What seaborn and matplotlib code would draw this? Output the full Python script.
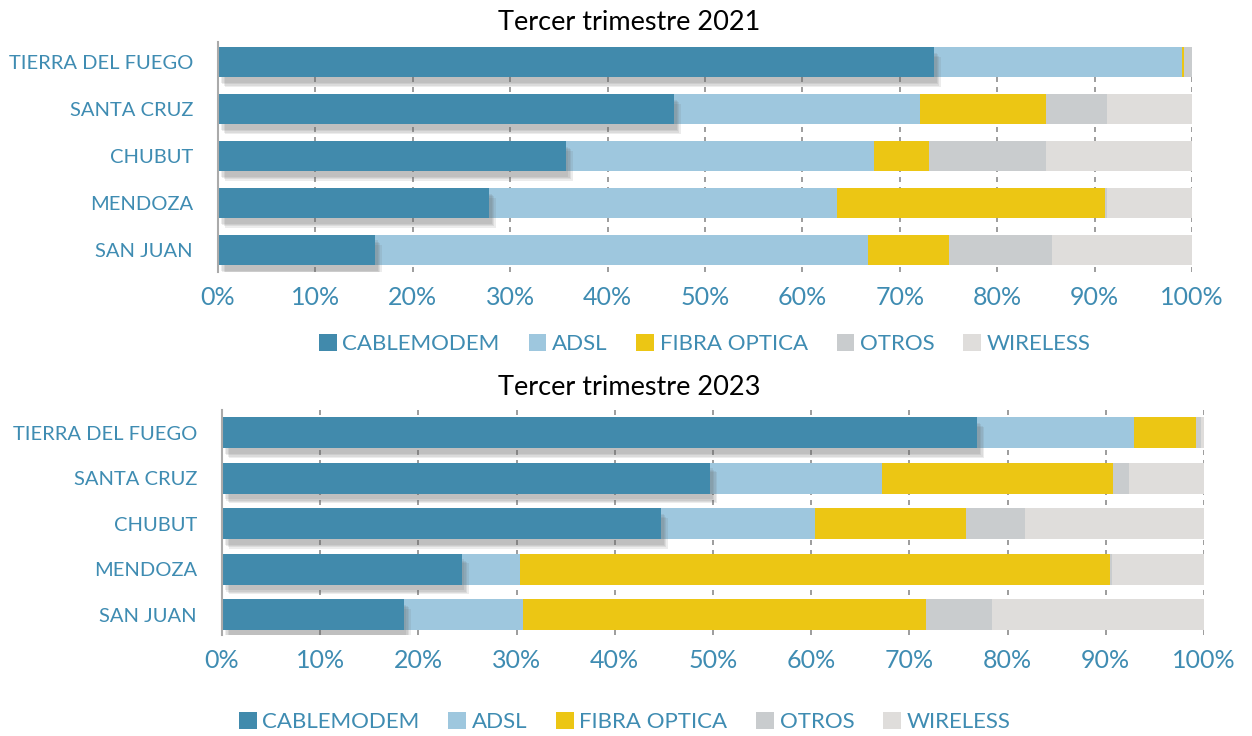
"""Stacked share of internet access technology by province, 2021 vs 2023."""

import matplotlib
matplotlib.use("Agg")
import matplotlib.pyplot as plt
import matplotlib.patheffects as pe
from matplotlib.patches import Patch
import seaborn as sns

provinces = ["TIERRA DEL FUEGO", "SANTA CRUZ", "CHUBUT", "MENDOZA", "SAN JUAN"]
technologies = ["CABLEMODEM", "ADSL", "FIBRA OPTICA", "OTROS", "WIRELESS"]
x_ticks = [0, 10, 20, 30, 40, 50, 60, 70, 80, 90, 100]

# 2021 shares (%)
cable_2021 = [73.5, 46.8, 35.7, 27.8, 16.1]
adsl_2021 = [25.5, 25.3, 31.6, 35.8, 50.6]
fibra_2021 = [0.2, 12.9, 5.7, 27.5, 8.3]
otros_2021 = [0.8, 6.3, 12.0, 0.2, 10.6]
wireless_2021 = [0.0, 8.7, 15.0, 8.7, 14.4]

# 2023 shares (%)
cable_2023 = [76.9, 49.7, 44.7, 24.4, 18.5]
adsl_2023 = [16.0, 17.5, 15.7, 5.9, 12.2]
fibra_2023 = [6.3, 23.5, 15.4, 60.1, 41.0]
otros_2023 = [0.5, 1.7, 6.0, 0.2, 6.7]
wireless_2023 = [0.3, 7.6, 18.2, 9.4, 21.6]

colors = ["#418aac", "#9ec7de", "#ecc614", "#c9ccce", "#dfdddb"]
label_color = "#3f8cb2"
FONT = "Lato"


def stacked(ax, series, bar_width):
    # cumulative sums, drawn from the longest down so each segment shows
    cums = []
    running = [0.0] * len(provinces)
    for s in series:
        running = [r + v for r, v in zip(running, s)]
        cums.append(list(running))
    for i in reversed(range(len(series))):
        sns.barplot(x=cums[i], y=provinces, orient="h", color=colors[i],
                    width=bar_width, errorbar=None, ax=ax, zorder=2,
                    saturation=1, linewidth=0)
    # soft drop shadow only under the first segment
    n = len(provinces)
    shadow = [pe.SimplePatchShadow(offset=(dx, dy), shadow_rgbFace="#666666", alpha=0.12)
              for dx, dy in [(5, -7), (4, -6), (3, -5), (2, -4)]]
    for patch in ax.patches[-n:]:
        patch.set_path_effects(shadow + [pe.Normal()])


def style_axes(ax, ylim):
    ax.set_xlim(0, 100)
    ax.set_ylim(*ylim)
    ax.set_xticks(x_ticks)
    ax.set_xticklabels([f"{t}%" for t in x_ticks], fontsize=18, color=label_color,
                       family=FONT)
    ax.set_yticks(range(len(provinces)))
    ax.set_yticklabels(provinces, fontsize=14.5, color=label_color, family=FONT)
    ax.tick_params(axis="both", length=0)
    ax.tick_params(axis="x", pad=10)
    ax.tick_params(axis="y", pad=18)
    ax.set_xlabel("")
    ax.set_ylabel("")
    for side in ["top", "right", "bottom"]:
        ax.spines[side].set_visible(False)
    ax.spines["left"].set_color("#aaaaaa")
    ax.spines["left"].set_linewidth(1.5)
    ax.grid(False)
    for t in x_ticks[1:]:
        ax.axvline(t, color="#8c8c8c", linestyle=(0, (3, 3)), linewidth=1.2, zorder=0)


def add_legend(fig, x, y):
    handles = [Patch(facecolor=c, edgecolor="none") for c in colors]
    leg = fig.legend(handles, technologies, loc="center", bbox_to_anchor=(x, y),
                     ncol=5, frameon=False, handlelength=0.8, handleheight=0.8,
                     handletextpad=0.25, columnspacing=1.3,
                     prop={"family": FONT, "size": 16})
    for txt in leg.get_texts():
        txt.set_color(label_color)


sns.set_theme(style="white")
plt.rcParams["font.family"] = [FONT, "DejaVu Sans"]

fig = plt.figure(figsize=(12.52, 7.36), dpi=100)

ax1 = fig.add_axes([0.1741, 0.6304, 0.7780, 0.3125])
stacked(ax1, [cable_2021, adsl_2021, fibra_2021, otros_2021, wireless_2021], 0.64)
style_axes(ax1, (4.47, -0.43))
fig.text(0.5025, 0.970, "Tercer trimestre 2021", ha="center", va="center",
         fontsize=19.5, color="black", family=FONT)
add_legend(fig, 0.563, 0.533)

ax2 = fig.add_axes([0.1773, 0.1372, 0.7843, 0.3057])
stacked(ax2, [cable_2023, adsl_2023, fibra_2023, otros_2023, wireless_2023], 0.68)
style_axes(ax2, (4.45, -0.5))
fig.text(0.5025, 0.474, "Tercer trimestre 2023", ha="center", va="center",
         fontsize=19.5, color="black", family=FONT)
add_legend(fig, 0.499, 0.019)

fig.savefig("out.png", dpi=100)
